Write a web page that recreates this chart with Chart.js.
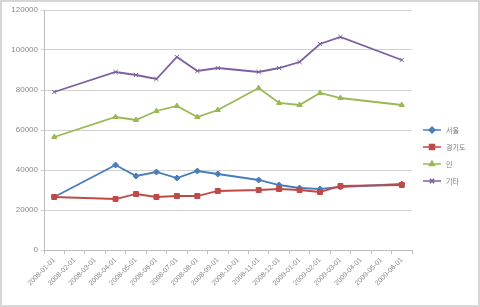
<!DOCTYPE html>
<html>
<head>
<meta charset="utf-8">
<script src="https://cdn.jsdelivr.net/npm/chart.js@4/dist/chart.umd.min.js"></script>
<style>
  html, body { margin: 0; padding: 0; background: #fff; }
  #wrap { position: relative; width: 480px; height: 307px; }
  #wrap::after { content: ''; position: absolute; inset: 0; border: 2px solid #d6d6d6; pointer-events: none; }
  canvas { display: block; }
</style>
</head>
<body>
<div id="wrap"><canvas id="chart" width="480" height="307"></canvas></div>
<script>
// dates on the x axis (one per month)
const categories = [
  '2008-01-01', '2008-02-01', '2008-03-01', '2008-04-01', '2008-05-01', '2008-06-01',
  '2008-07-01', '2008-08-01', '2008-09-01', '2008-10-01', '2008-11-01', '2008-12-01',
  '2009-01-01', '2009-02-01', '2009-03-01', '2009-04-01', '2009-05-01', '2009-06-01'
];
const seriesNames = ['서울', '경기도', '인', '기타'];

// null = no observation that month (line is joined across it)
const blueValues   = [26500, null, null, 42500, 37000, 39000, 36000, 39500, 38000, null, 35000, 32500, 31000, 30500, 31500, null, null, 33000];
const redValues    = [26500, null, null, 25500, 28000, 26500, 27000, 27000, 29500, null, 30000, 30500, 30000, 29000, 32000, null, null, 32500];
const greenValues  = [56500, null, null, 66500, 65000, 69500, 72000, 66500, 70000, null, 81000, 73500, 72500, 78500, 76000, null, null, 72500];
const purpleValues = [79000, null, null, 89000, 87500, 85500, 96500, 89500, 91000, null, 89000, 91000, 94000, 103000, 106500, null, null, 95000];

const yTicks = [0, 20000, 40000, 60000, 80000, 100000, 120000];

const colors = ['#4a7ebb', '#be4b48', '#98b954', '#7d60a0'];
const styles = ['rectRot', 'rect', 'triangle', 'crossRot'];
const radii = [3, 3.5, 3, 3];

function makeSet(i, values) {
  return {
    label: seriesNames[i],
    data: values,
    borderColor: colors[i],
    backgroundColor: colors[i],
    borderWidth: 1.8,
    pointStyle: styles[i],
    pointRadius: radii[i],
    pointBorderWidth: 1,
    pointBackgroundColor: colors[i],
    pointBorderColor: colors[i],
    spanGaps: true,
    tension: 0,
    order: 4 - i
  };
}

// legend drawn at the right like the original
const sideLegend = {
  id: 'sideLegend',
  afterDraw(c) {
    const ctx = c.ctx;
    ctx.save();
    c.data.datasets.forEach((ds, i) => {
      const y = 130 + i * 17;
      ctx.strokeStyle = ds.borderColor;
      ctx.lineWidth = 1.5;
      ctx.beginPath();
      ctx.moveTo(423, y);
      ctx.lineTo(441, y);
      ctx.stroke();
      ctx.fillStyle = ds.borderColor;
      Chart.helpers.drawPoint(ctx, { pointStyle: ds.pointStyle, radius: ds.pointRadius, borderWidth: 1, rotation: 0 }, 432, y);
      ctx.fillStyle = '#777';
      ctx.font = '7px "Noto Sans CJK KR", sans-serif';
      ctx.textBaseline = 'middle';
      ctx.fillText(ds.label, 446, y);
    });
    ctx.restore();
  }
};

new Chart(document.getElementById('chart'), {
  type: 'line',
  data: {
    labels: categories,
    datasets: [
      makeSet(0, blueValues),
      makeSet(1, redValues),
      makeSet(2, greenValues),
      makeSet(3, purpleValues)
    ]
  },
  options: {
    responsive: false,
    animation: false,
    layout: { padding: { top: 10, right: 68, left: 0, bottom: 0 } },
    plugins: { legend: { display: false }, tooltip: { enabled: false } },
    scales: {
      x: {
        offset: true,
        grid: { offset: true, drawOnChartArea: false, tickLength: 4, color: '#bdbdbd' },
        border: { color: '#bdbdbd' },
        ticks: {
          autoSkip: false, maxRotation: 45, minRotation: 45,
          color: '#888', font: { family: 'Liberation Sans', size: 7 }, padding: 2
        },
        afterFit: s => { s.height = 57; }
      },
      y: {
        min: 0,
        max: 120000,
        afterBuildTicks: s => { s.ticks = yTicks.map(v => ({ value: v })); },
        grid: { color: '#d0d0d0', tickLength: 3 },
        border: { color: '#bdbdbd' },
        ticks: {
          color: '#888', font: { family: 'Liberation Sans', size: 8 }, padding: 3,
          callback: v => String(v)
        },
        afterFit: s => { s.width = 44; }
      }
    }
  },
  plugins: [sideLegend]
});
</script>
</body>
</html>
